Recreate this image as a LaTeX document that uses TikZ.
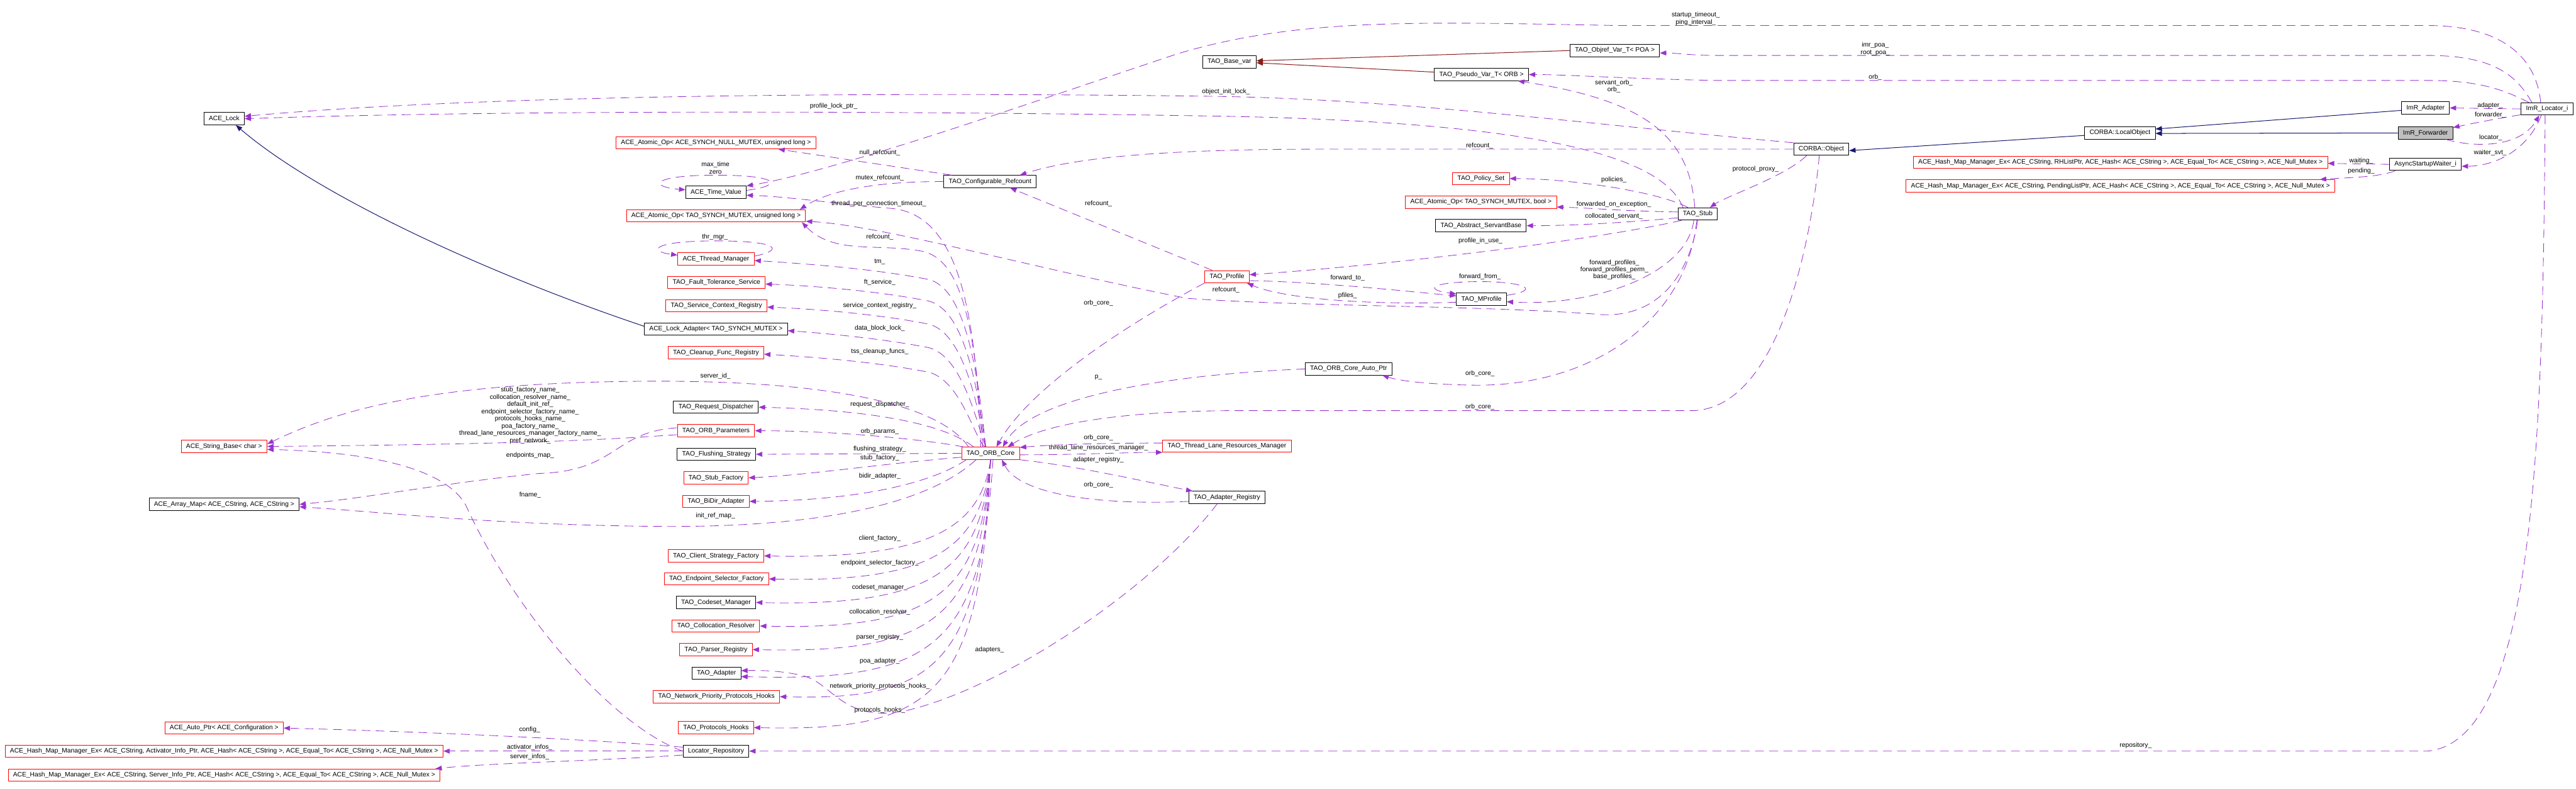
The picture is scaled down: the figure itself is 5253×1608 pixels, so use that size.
\documentclass[tikz,border=0pt]{standalone}
\usepackage{fontspec}
\newfontfamily\doxfont{Liberation Sans}
\usetikzlibrary{arrows.meta}
\definecolor{edgepurple}{HTML}{9A32CD}
\definecolor{inhblue}{HTML}{191970}
\definecolor{tmplred}{HTML}{8B1A1A}
\definecolor{boxgray}{HTML}{BFBFBF}
\newcommand\dfont{\doxfont\fontsize{13.2}{14.7}\selectfont}
\tikzset{
  cls/.style={draw=black, line width=1.2pt, fill=white, minimum height=25pt,
    inner xsep=10pt, inner ysep=0pt, font=\dfont},
  clsred/.style={cls, draw=red},
  lbl/.style={font=\dfont, inner sep=0pt, align=center},
  usage/.style={draw=edgepurple, line width=1.1pt, dash pattern=on 18pt off 11pt, ->},
  inh/.style={draw=inhblue, line width=1.3pt, ->},
  tmpl/.style={draw=tmplred, line width=1.3pt, ->}
}
\begin{document}
\begin{tikzpicture}[x=1pt,y=-1pt,>={Triangle[length=13pt,width=10pt]},line join=round]
\useasboundingbox (0,0) rectangle (5253,1608);
% classes, left ranks
\node[cls] (lock) at (457,242) {ACE\_Lock};
\node[clsred] (strbase) at (457,910) {ACE\_String\_Base< char >};
\node[cls] (arraymap) at (457,1028) {ACE\_Array\_Map< ACE\_CString, ACE\_CString >};
\node[clsred] (autoptr) at (457,1484) {ACE\_Auto\_Ptr< ACE\_Configuration >};
\node[clsred] (hmact) at (457,1531) {ACE\_Hash\_Map\_Manager\_Ex< ACE\_CString, Activator\_Info\_Ptr, ACE\_Hash< ACE\_CString >, ACE\_Equal\_To< ACE\_CString >, ACE\_Null\_Mutex >};
\node[clsred] (hmsrv) at (457,1580) {ACE\_Hash\_Map\_Manager\_Ex< ACE\_CString, Server\_Info\_Ptr, ACE\_Hash< ACE\_CString >, ACE\_Equal\_To< ACE\_CString >, ACE\_Null\_Mutex >};
\node[clsred] (atomicnull) at (1460,291) {ACE\_Atomic\_Op< ACE\_SYNCH\_NULL\_MUTEX, unsigned long >};
\node[cls] (timeval) at (1460,392) {ACE\_Time\_Value};
\node[clsred] (atomicul) at (1460,440) {ACE\_Atomic\_Op< TAO\_SYNCH\_MUTEX, unsigned long >};
\node[clsred] (thrmgr) at (1460,528) {ACE\_Thread\_Manager};
\node[clsred] (ftsvc) at (1461,576) {TAO\_Fault\_Tolerance\_Service};
\node[clsred] (scr) at (1461,623) {TAO\_Service\_Context\_Registry};
\node[cls] (lockad) at (1460,671) {ACE\_Lock\_Adapter< TAO\_SYNCH\_MUTEX >};
\node[clsred] (cleanup) at (1460,719) {TAO\_Cleanup\_Func\_Registry};
\node[cls] (reqdisp) at (1460,830) {TAO\_Request\_Dispatcher};
\node[clsred] (orbparams) at (1460,878) {TAO\_ORB\_Parameters};
\node[cls] (flush) at (1461,926) {TAO\_Flushing\_Strategy};
\node[clsred] (stubfac) at (1460,974) {TAO\_Stub\_Factory};
\node[clsred] (bidir) at (1460,1022) {TAO\_BiDir\_Adapter};
\node[clsred] (clientsf) at (1460,1133) {TAO\_Client\_Strategy\_Factory};
\node[clsred] (epsf) at (1461,1180) {TAO\_Endpoint\_Selector\_Factory};
\node[cls] (codeset) at (1460,1228) {TAO\_Codeset\_Manager};
\node[clsred] (collres) at (1460,1276) {TAO\_Collocation\_Resolver};
\node[clsred] (parser) at (1460,1324) {TAO\_Parser\_Registry};
\node[cls] (adapter) at (1461,1372) {TAO\_Adapter};
\node[clsred] (nph) at (1461,1420) {TAO\_Network\_Priority\_Protocols\_Hooks};
\node[clsred] (phooks) at (1460,1483) {TAO\_Protocols\_Hooks};
\node[cls] (locrepo) at (1460,1531) {Locator\_Repository};
% classes, middle ranks
\node[cls] (confref) at (2019,370) {TAO\_Configurable\_Refcount};
\node[clsred] (orbcore) at (2020,924) {TAO\_ORB\_Core};
\node[cls] (basevar) at (2507,126) {TAO\_Base\_var};
\node[clsred] (profile) at (2502,564) {TAO\_Profile};
\node[clsred] (tlrm) at (2502,909) {TAO\_Thread\_Lane\_Resources\_Manager};
\node[cls] (adreg) at (2502,1014) {TAO\_Adapter\_Registry};
\node[cls] (orbautoptr) at (2750,752) {TAO\_ORB\_Core\_Auto\_Ptr};
\node[cls] (pseudovar) at (3021,152) {TAO\_Pseudo\_Var\_T< ORB >};
\node[clsred] (policyset) at (3020,364) {TAO\_Policy\_Set};
\node[clsred] (atomicbool) at (3020,412) {ACE\_Atomic\_Op< TAO\_SYNCH\_MUTEX, bool >};
\node[cls] (servantbase) at (3020,460) {TAO\_Abstract\_ServantBase};
\node[cls] (mprofile) at (3021,610) {TAO\_MProfile};
\node[cls] (objrefvar) at (3293,103) {TAO\_Objref\_Var\_T< POA >};
\node[cls] (stub) at (3462,436) {TAO\_Stub};
% classes, right ranks
\node[cls] (corbaobj) at (3714,304) {CORBA::Object};
\node[cls] (localobj) at (4323,271) {CORBA::LocalObject};
\node[clsred] (hmrh) at (4324,331) {ACE\_Hash\_Map\_Manager\_Ex< ACE\_CString, RHListPtr, ACE\_Hash< ACE\_CString >, ACE\_Equal\_To< ACE\_CString >, ACE\_Null\_Mutex >};
\node[clsred] (hmpend) at (4324,379) {ACE\_Hash\_Map\_Manager\_Ex< ACE\_CString, PendingListPtr, ACE\_Hash< ACE\_CString >, ACE\_Equal\_To< ACE\_CString >, ACE\_Null\_Mutex >};
\node[cls] (imradapter) at (4946,220) {ImR\_Adapter};
\node[cls, fill=boxgray] (imrfwd) at (4946,271) {ImR\_Forwarder};
\node[cls] (waiter) at (4946,335) {AsyncStartupWaiter\_i};
\node[cls] (locator) at (5194,222) {ImR\_Locator\_i};

% inheritance and template edges
\draw[inh] ([yshift=6pt]lockad.west) .. controls (1000,560) and (650,400) .. ([xshift=24pt]lock.south);
\draw[inh] ([yshift=-5pt]localobj.west) -- ([yshift=-3pt]corbaobj.east);
\draw[inh] ([yshift=-5pt]imradapter.west) -- ([yshift=8pt]localobj.east);
\draw[inh] (imrfwd.west) -- ([yshift=-1pt]localobj.east);
\draw[tmpl] (objrefvar.west) -- ([yshift=2pt]basevar.east);
\draw[tmpl] ([yshift=5pt]pseudovar.west) -- ([yshift=-2pt]basevar.east);

% ACE_Lock users
\draw[usage] (corbaobj.north west) .. controls (3250,255) and (2850,200) .. (2450,196) .. controls (1800,188) and (1000,192) .. ([yshift=5pt]lock.east);
\draw[usage] ([xshift=-30pt]stub.north) .. controls (3390,320) and (3150,250) .. (2500,237) .. controls (1800,225) and (1000,225) .. (lock.east);

% refcounts and time values
\draw[usage] ([xshift=16pt]confref.north west) -- ([xshift=-77pt]atomicnull.south east);
\draw[usage] (confref.west) .. controls (1760,370) and (1680,395) .. ([xshift=-12pt]atomicul.north east);
\draw[usage] ([xshift=-13pt]locator.north) .. controls (5170,100) and (5080,52) .. (4950,52) -- (3300,52) .. controls (2900,45) and (2650,35) .. (2400,110) .. controls (2100,210) and (1700,350) .. (timeval.north east);
\draw[usage] ([yshift=4pt]timeval.east) .. controls (1600,378) and (1590,357) .. (1460,357) .. controls (1330,357) and (1320,380) .. ([yshift=5pt]timeval.west);
\draw[usage] ([xshift=-20pt]orbcore.north) .. controls (1990,650) and (1960,440) .. (1820,425) .. controls (1700,415) and (1600,400) .. ([yshift=-6pt]timeval.east);
\draw[usage] ([xshift=-16pt]orbcore.north) .. controls (1990,700) and (1970,530) .. (1880,512) .. controls (1790,495) and (1700,520) .. ([xshift=-8pt]atomicul.south east);
\draw[usage] (stub.south) .. controls (3445,560) and (3380,655) .. (3250,640) .. controls (3000,622) and (2650,625) .. (2420,608) .. controls (2100,545) and (1800,460) .. ([yshift=-11pt]atomicul.east);
\draw[usage] ([yshift=6pt]thrmgr.east) .. controls (1600,510) and (1590,491) .. (1460,491) .. controls (1330,491) and (1320,512) .. ([yshift=8pt]thrmgr.west);

% ORB core members, upper column
\foreach \tgt/\yt in {thrmgr/568, ftsvc/612, scr/659, lockad/707, cleanup/757}
  \draw[usage] ([xshift=-10pt]orbcore.north) .. controls (1990,{\yt+150}) and (1960,{\yt+8}) .. (1885,\yt) .. controls (1780,{\yt-20}) and (1650,{\yt-30}) .. ([yshift=-3pt]\tgt.east);

% ORB core members, middle column
\draw[usage] ([xshift=-45pt]orbcore.north) .. controls (1920,830) and (1720,778) .. (1350,777) .. controls (900,777) and (700,830) .. ([yshift=5pt]strbase.east);
\draw[usage] ([xshift=25pt]orbcore.north west) .. controls (1920,860) and (1760,835) .. (reqdisp.east);
\draw[usage] ([xshift=5pt]orbcore.north west) .. controls (1880,895) and (1700,878) .. (orbparams.east);
\draw[usage] (orbcore.west) -- (flush.east);
\draw[usage] ([yshift=-8pt]orbcore.west) .. controls (1800,945) and (1650,968) .. (stubfac.east);
\draw[usage] ([xshift=10pt]orbcore.south west) .. controls (1900,985) and (1750,1020) .. (bidir.east);
\draw[usage] ([xshift=30pt]orbcore.south west) .. controls (1900,1020) and (1700,1075) .. (1350,1073) .. controls (1000,1070) and (800,1045) .. ([yshift=-5pt]arraymap.east);
\draw[usage] ([yshift=-8pt]orbparams.west) .. controls (1250,895) and (1100,905) .. (strbase.east);
\draw[usage] ([yshift=6pt]orbparams.west) .. controls (1250,880) and (1260,960) .. (1100,965) .. controls (900,985) and (750,1015) .. (arraymap.east);
\draw[usage] (locrepo.west) .. controls (1250,1480) and (1050,1250) .. (950,1030) .. controls (900,940) and (700,920) .. ([yshift=-6pt]strbase.east);

% ORB core members, lower column
\foreach \tgt/\yt in {clientsf/1133, epsf/1180, codeset/1228, collres/1276, parser/1324, nph/1420, phooks/1483}
  \draw[usage] (orbcore.south) .. controls (2000,{\yt-60}) and (1900,{\yt+8}) .. (\tgt.east);
\draw[usage] ([xshift=5pt]orbcore.south) .. controls (2000,1320) and (1900,1390) .. ([yshift=-7pt]adapter.east);
\draw[usage] ([xshift=-20pt]adreg.south) .. controls (2350,1200) and (2050,1400) .. (1850,1448) .. controls (1720,1475) and (1700,1395) .. (1640,1378) .. controls (1600,1368) and (1560,1366) .. ([yshift=5pt]adapter.east);

% locator repository
\draw[usage] ([yshift=8pt]locrepo.west) .. controls (1250,1510) and (900,1492) .. (autoptr.east);
\draw[usage] (locrepo.west) -- (hmact.east);
\draw[usage] ([yshift=-8pt]locrepo.west) .. controls (1200,1552) and (1000,1555) .. ([xshift=-10pt]hmsrv.north east);
\draw[usage] ([xshift=-4pt]locator.south) .. controls (5185,900) and (5170,1510) .. (4950,1531) -- (locrepo.east);

% profiles and stub
\draw[usage] (corbaobj.west) -- (2700,304) .. controls (2400,304) and (2200,318) .. ([xshift=-34pt]confref.north east);
\draw[usage] ([xshift=16pt]profile.north west) -- ([xshift=41pt]confref.south);
\draw[usage] (profile.south west) .. controls (2300,660) and (2100,790) .. ([xshift=12pt]orbcore.north);
\draw[usage] ([xshift=8pt]stub.south west) .. controls (3300,480) and (2900,535) .. ([yshift=4pt]profile.east);
\draw[usage] ([yshift=-8pt]profile.east) .. controls (2700,575) and (2880,595) .. ([yshift=7pt]mprofile.west);
\draw[usage] ([yshift=-6pt]mprofile.west) .. controls (2800,622) and (2620,610) .. ([xshift=-5pt]profile.south east);
\draw[usage] ([yshift=8pt]mprofile.east) .. controls (3150,590) and (3100,574) .. (3020,574) .. controls (2920,574) and (2900,590) .. ([yshift=11pt]mprofile.west);
\draw[usage] ([xshift=-8pt]stub.south) .. controls (3440,560) and (3250,625) .. ([yshift=-5pt]mprofile.east);
\draw[usage] ([xshift=-20pt]stub.north) .. controls (3380,390) and (3200,364) .. (policyset.east);
\draw[usage] ([yshift=4pt]stub.west) .. controls (3300,430) and (3250,424) .. ([yshift=-10pt]atomicbool.east);
\draw[usage] ([yshift=-8pt]stub.west) .. controls (3300,455) and (3200,460) .. (servantbase.east);
\draw[usage] ([xshift=-6pt]stub.north) .. controls (3445,280) and (3360,205) .. ([xshift=-22pt]pseudovar.south east);
\draw[usage] ([xshift=-2pt]stub.south) .. controls (3440,650) and (3250,790) .. (3000,785) .. controls (2900,783) and (2850,775) .. ([xshift=-20pt]orbautoptr.south east);
\draw[usage] (orbautoptr.west) .. controls (2350,765) and (2100,815) .. ([xshift=25pt]orbcore.north);
\draw[usage] ([xshift=-4pt]corbaobj.south) .. controls (3690,520) and (3620,835) .. (3450,837) -- (2500,837) .. controls (2250,840) and (2120,870) .. ([xshift=35pt]orbcore.north);
\draw[usage] ([xshift=-30pt]corbaobj.south) .. controls (3640,360) and (3520,400) .. ([xshift=-16pt]stub.north east);

% thread lanes and adapter registry
\draw[usage] ([yshift=6pt]tlrm.west) .. controls (2250,903) and (2150,906) .. ([yshift=12pt]orbcore.east);
\draw[usage] ([yshift=-3pt]orbcore.east) .. controls (2200,927) and (2300,922) .. ([yshift=-13pt]tlrm.west);
\draw[usage] (orbcore.south east) .. controls (2200,950) and (2350,985) .. ([xshift=8pt]adreg.north west);
\draw[usage] ([yshift=-8pt]adreg.west) .. controls (2250,1030) and (2080,1010) .. ([xshift=23pt]orbcore.south);

% locator members
\draw[usage] ([xshift=-31pt]locator.north) .. controls (5130,150) and (5080,113) .. (4950,113) -- (3500,113) .. controls (3450,113) and (3420,108) .. ([yshift=-5pt]objrefvar.east);
\draw[usage] ([xshift=-37pt]locator.north) .. controls (5100,180) and (5050,164) .. (4950,164) -- (3500,164) .. controls (3300,160) and (3200,152) .. (pseudovar.east);
\draw[usage] (locator.west) -- (imradapter.east);
\draw[usage] ([yshift=-12pt]locator.west) .. controls (5100,240) and (5040,252) .. ([yshift=11pt]imrfwd.east);
\draw[usage] ([xshift=-15pt]imrfwd.south east) .. controls (5050,302) and (5140,300) .. ([xshift=-16pt]locator.south);
\draw[usage] ([xshift=-12pt]locator.south) .. controls (5160,295) and (5100,338) .. ([yshift=-4pt]waiter.east);
\draw[usage] (waiter.west) -- ([yshift=-2pt]hmrh.east);
\draw[usage] ([xshift=12pt]waiter.south west) .. controls (4850,362) and (4780,362) .. ([xshift=-31pt]hmpend.north east);

% edge labels
\node[lbl] (lmaxtime) at (1459,342) {max\_time\\zero};
\node[lbl] (lthrmgr) at (1458,483) {thr\_mgr\_};
\node[lbl] (lnullref) at (1794,312) {null\_refcount\_};
\node[lbl] (lmutexref) at (1794,363) {mutex\_refcount\_};
\node[lbl] (ltpct) at (1792,415) {thread\_per\_connection\_timeout\_};
\node[lbl] (lcoreref) at (1794,483) {refcount\_};
\foreach \n/\t/\y in {ltm/tm\_/534, lft/ft\_service\_/575, lscr/service\_context\_registry\_/623,
    ldbl/data\_block\_lock\_/669, ltss/tss\_cleanup\_funcs\_/717, lreq/request\_dispatcher\_/825,
    lparams/orb\_params\_/880, lflush/flushing\_strategy\_/915, lstubf/stub\_factory\_/934,
    lbidir/bidir\_adapter\_/971, lclient/client\_factory\_/1097, lepsf/endpoint\_selector\_factory\_/1147,
    lcodeset/codeset\_manager\_/1197, lcollres/collocation\_resolver\_/1248, lparser/parser\_registry\_/1299,
    lpoa/poa\_adapter\_/1348, lnph/network\_priority\_protocols\_hooks\_/1399, lphooks/protocols\_hooks\_/1448}
  \node[lbl] (\n) at (1794,\y) {\t};
\node[lbl] (lserverid) at (1459,767) {server\_id\_};
\node[lbl] (lstrnames) at (1081,847) {stub\_factory\_name\_\\collocation\_resolver\_name\_\\default\_init\_ref\_\\endpoint\_selector\_factory\_name\_\\protocols\_hooks\_name\_\\poa\_factory\_name\_\\thread\_lane\_resources\_manager\_factory\_name\_\\pref\_network\_};
\node[lbl] (lepmap) at (1081,928) {endpoints\_map\_};
\node[lbl] (lfname) at (1081,1009) {fname\_};
\node[lbl] (linitref) at (1459,1052) {init\_ref\_map\_};
\node[lbl] (ladapters) at (2018,1324) {adapters\_};
\node[lbl] (lconfig) at (1080,1487) {config\_};
\node[lbl] (lactinfo) at (1080,1523) {activator\_infos\_};
\node[lbl] (lsrvinfo) at (1080,1543) {server\_infos\_};
\node[lbl] (lrepo) at (4355,1520) {repository\_};
\node[lbl] (lprofref) at (2240,415) {refcount\_};
\node[lbl] (lprofcore) at (2240,618) {orb\_core\_};
\node[lbl] (lstubref) at (2500,591) {refcount\_};
\node[lbl] (lp) at (2240,769) {p\_};
\node[lbl] (ltlrmcore) at (2240,892) {orb\_core\_};
\node[lbl] (ltlrm) at (2240,913) {thread\_lane\_resources\_manager\_};
\node[lbl] (ladreg) at (2240,937) {adapter\_registry\_};
\node[lbl] (ladregcore) at (2240,988) {orb\_core\_};
\node[lbl] (lfwdto) at (2748,567) {forward\_to\_};
\node[lbl] (lpfiles) at (2748,602) {pfiles\_};
\node[lbl] (lfwdfrom) at (3018,564) {forward\_from\_};
\node[lbl] (lpiu) at (3019,491) {profile\_in\_use\_};
\node[lbl] (lfwdprof) at (3292,550) {forward\_profiles\_\\forward\_profiles\_perm\_\\base\_profiles\_};
\node[lbl] (lstubcore) at (3018,761) {orb\_core\_};
\node[lbl] (lobjcore) at (3018,829) {orb\_core\_};
\node[lbl] (lpolicies) at (3291,367) {policies\_};
\node[lbl] (lfoe) at (3291,416) {forwarded\_on\_exception\_};
\node[lbl] (lcolloc) at (3291,441) {collocated\_servant\_};
\node[lbl] (lservorb) at (3291,176) {servant\_orb\_\\orb\_};
\node[lbl] (lobjref) at (3017,297) {refcount\_};
\node[lbl] (loil) at (2500,187) {object\_init\_lock\_};
\node[lbl] (lplp) at (1700,216) {profile\_lock\_ptr\_};
\node[lbl] (lstartup) at (3458,38) {startup\_timeout\_\\ping\_interval\_};
\node[lbl] (lpoa2) at (3824,100) {imr\_poa\_\\root\_poa\_};
\node[lbl] (lorb) at (3824,157) {orb\_};
\node[lbl] (lproxy) at (3580,345) {protocol\_proxy\_};
\node[lbl] (ladapt) at (5078,215) {adapter\_};
\node[lbl] (lfwd) at (5078,234) {forwarder\_};
\node[lbl] (lloc) at (5079,281) {locator\_};
\node[lbl] (lwaiter) at (5078,312) {waiter\_svt\_};
\node[lbl] (lwaiting) at (4815,328) {waiting\_};
\node[lbl] (lpending) at (4815,348) {pending\_};
\end{tikzpicture}
\end{document}
